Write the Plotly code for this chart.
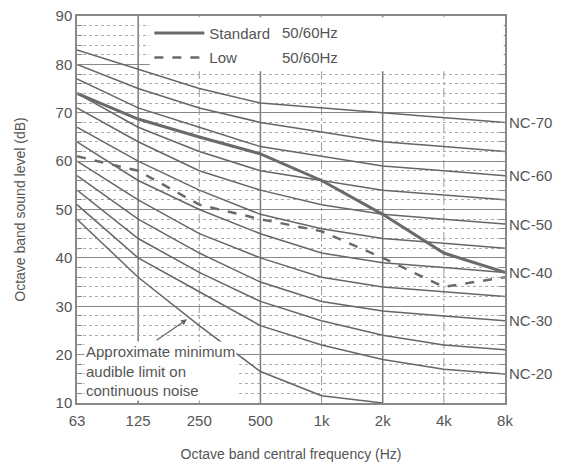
import plotly.graph_objects as go

freqs = ['63', '125', '250', '500', '1k', '2k', '4k', '8k']

nc70 = [83, 79, 75, 72, 71, 70, 69, 68]
nc65 = [80, 75, 71, 68, 66, 64, 63, 62]
nc60 = [77, 71, 67, 63, 61, 59, 58, 57]
nc55 = [74, 67, 62, 58, 56, 54, 53, 52]
nc50 = [71, 64, 58, 54, 51, 49, 48, 47]
nc45 = [67, 60, 54, 49, 46, 44, 43, 42]
nc40 = [64, 56, 50, 45, 41, 39, 38, 37]
nc35 = [60, 52, 45, 40, 36, 34, 33, 32]
nc30 = [57, 48, 41, 35, 31, 29, 28, 27]
nc25 = [54, 44, 37, 31, 27, 24, 22, 21]
nc20 = [51, 40, 33, 26, 22, 19, 17, 16]
audible_limit = [48, 36, 26, 16.5, 11.5, 10]

standard = [74, 68.7, 65, 61.5, 56, 49, 41, 37]
low = [61, 58, 51, 48, 45.5, 40, 34, 36]

nc_curves = [nc70, nc65, nc60, nc55, nc50, nc45, nc40, nc35, nc30, nc25, nc20]
nc_labels = {'NC-70': nc70, 'NC-60': nc60, 'NC-50': nc50,
             'NC-40': nc40, 'NC-30': nc30, 'NC-20': nc20}

FONT = 'Liberation Sans, Arial, sans-serif'
TXT = '#555555'
LINE = '#666666'

fig = go.Figure()

for c in nc_curves:
    fig.add_trace(go.Scatter(x=freqs, y=c, mode='lines', showlegend=False,
                             line=dict(color=LINE, width=1.5), hoverinfo='skip'))
fig.add_trace(go.Scatter(x=freqs[:len(audible_limit)], y=audible_limit, mode='lines',
                         showlegend=False, line=dict(color=LINE, width=1.5)))

fig.add_trace(go.Scatter(x=freqs, y=standard, mode='lines', name='Standard',
                         legendgroup='a', line=dict(color='#6a6a6a', width=3)))
fig.add_trace(go.Scatter(x=freqs, y=low, mode='lines', name='Low',
                         legendgroup='b', line=dict(color='#6a6a6a', width=2.5, dash='dash')))

shapes = []
solid_v = ['125', '500', '2k']
dash_v = ['250', '1k', '4k']
for f in solid_v:
    i = freqs.index(f)
    shapes.append(dict(type='line', xref='x', yref='paper', x0=i, x1=i, y0=0, y1=1,
                       line=dict(color='#7a7a7a', width=1.5), layer='between'))
for f in dash_v:
    i = freqs.index(f)
    shapes.append(dict(type='line', xref='x', yref='paper', x0=i, x1=i, y0=0, y1=1,
                       line=dict(color='#9a9a9a', width=1, dash='dashdot'), layer='between'))
# white legend area
shapes.append(dict(type='rect', xref='paper', yref='paper', x0=0.17, x1=0.997, y0=0.857, y1=0.997,
                   fillcolor='white', line=dict(width=0), layer='above'))

annotations = []
for name, c in nc_labels.items():
    annotations.append(dict(x=1, xref='paper', y=c[-1], yref='y', text=name,
                            showarrow=False, xanchor='left', xshift=2,
                            font=dict(family=FONT, size=15, color=TXT)))
for yv in (86.6, 81.4):
    annotations.append(dict(x=0.474, xref='paper', y=yv, yref='y', text='50/60Hz',
                            showarrow=False, xanchor='left',
                            font=dict(family=FONT, size=15, color=TXT)))
annotations.append(dict(x=0.12, xref='x', y=10.4, yref='y', yanchor='bottom', xanchor='left',
                        text='Approximate minimum<br>audible limit on<br>continuous noise',
                        align='left', showarrow=False, bgcolor='white', borderpad=1,
                        font=dict(family=FONT, size=15, color=TXT)))
annotations.append(dict(x=1.8, xref='x', y=27.3, yref='y', ax=-32, ay=22, text='',
                        showarrow=True, arrowhead=2, arrowsize=1, arrowwidth=1.2,
                        arrowcolor='#666666'))

fig.update_layout(
    width=557, height=457,
    margin=dict(l=69, r=60, t=8, b=62, autoexpand=False),
    plot_bgcolor='white', paper_bgcolor='white',
    font=dict(family=FONT, size=15, color=TXT),
    shapes=shapes, annotations=annotations,
    legend=dict(x=0.169, y=0.998, xanchor='left', yanchor='top', bgcolor='rgba(0,0,0,0)',
                font=dict(family=FONT, size=15, color=TXT), itemwidth=50,
                traceorder='grouped', tracegroupgap=2),
    xaxis=dict(type='category', range=[0, 7], showgrid=False, showline=True,
               linecolor='#888888', linewidth=1.5, mirror=True, ticks='',
               automargin=False, ticklabelstandoff=3,
               tickfont=dict(family=FONT, size=15, color=TXT),
               title=dict(text='Octave band central frequency (Hz)', standoff=21,
                          font=dict(family=FONT, size=14, color=TXT))),
    yaxis=dict(range=[10, 90], dtick=10, showgrid=True, gridcolor='#8a8a8a', gridwidth=1.3,
               showline=True, linecolor='#888888', linewidth=1.5, mirror='ticks',
               ticks='inside', ticklen=6, tickcolor='#888888', automargin=False,
               ticklabeloverflow='allow',
               minor=dict(dtick=2, showgrid=True, gridcolor='#aaaaaa', griddash='dot',
                          gridwidth=1, ticks='inside', ticklen=5, tickcolor='#888888'),
               zeroline=False,
               tickfont=dict(family=FONT, size=15, color=TXT),
               title=dict(text='Octave band sound level (dB)', standoff=27,
                          font=dict(family=FONT, size=14, color=TXT))),
)

fig.write_html('out.html')
